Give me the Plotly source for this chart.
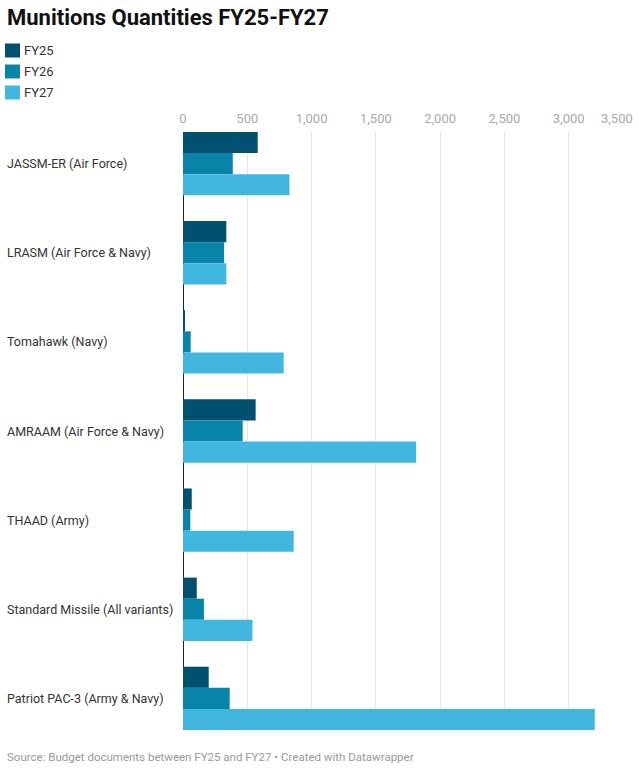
import plotly.graph_objects as go

categories = [
    "JASSM-ER (Air Force)",
    "LRASM (Air Force & Navy)",
    "Tomahawk (Navy)",
    "AMRAAM (Air Force & Navy)",
    "THAAD (Army)",
    "Standard Missile (All variants)",
    "Patriot PAC-3 (Army & Navy)",
]
fy25 = [581, 337, 15, 565, 68, 107, 200]
fy26 = [387, 319, 60, 464, 57, 163, 363]
fy27 = [828, 337, 783, 1813, 861, 540, 3203]

series_names = ["FY25", "FY26", "FY27"]
colors = ["#02506f", "#0784a8", "#41b7e0"]
tick_vals = [0, 500, 1000, 1500, 2000, 2500, 3000, 3500]

W, H = 639, 771
ML, MR, MT, MB = 183, 6, 132, 41
PW, PH = W - ML - MR, H - MT - MB
gap = 0.29


# paper coords are relative to the plot area, convert from page pixels
def px(x):
    return (x - ML) / PW


def py(y):
    return 1 - (y - MT) / PH


fig = go.Figure()
for name, vals, col in zip(series_names, [fy25, fy26, fy27], colors):
    fig.add_trace(
        go.Bar(
            y=categories,
            x=vals,
            name=name,
            orientation="h",
            marker=dict(color=col, line=dict(width=0)),
            hoverinfo="x+name",
        )
    )

# title
fig.add_annotation(
    x=px(5), y=py(18), xref="paper", yref="paper", xanchor="left", yanchor="middle",
    text="<b>Munitions Quantities FY25-FY27</b>", showarrow=False,
    font=dict(family="Roboto", size=22, color="#111111"),
)

# legend drawn by hand (datawrapper style)
for i, (name, col) in enumerate(zip(series_names, colors)):
    yc = 50.5 + 21 * i
    fig.add_shape(
        type="rect", xref="paper", yref="paper",
        x0=px(5), x1=px(20), y0=py(yc - 7), y1=py(yc + 7),
        fillcolor=col, line=dict(width=0),
    )
    fig.add_annotation(
        x=px(22), y=py(yc), xref="paper", yref="paper", xanchor="left", yanchor="middle",
        text=name, showarrow=False, font=dict(family="Roboto", size=13, color="#333333"),
    )

# category labels on the left
for cat in categories:
    fig.add_annotation(
        x=px(5), y=cat, xref="paper", yref="y", xanchor="left", yanchor="middle",
        text=cat, showarrow=False, font=dict(family="Roboto", size=12.5, color="#333333"),
    )

# last tick label sits right-aligned on its gridline
fig.add_annotation(
    x=tick_vals[-1], y=py(119), xref="x", yref="paper", xanchor="right", yanchor="middle",
    text=f"{tick_vals[-1]:,}", showarrow=False, xshift=2,
    font=dict(family="Roboto", size=13, color="#aaaaaa"),
)

fig.update_xaxes(
    range=[0, 3500],
    side="top",
    tickvals=tick_vals,
    ticktext=[f"{v:,}" for v in tick_vals[:-1]] + [""],
    tickfont=dict(family="Roboto", size=13, color="#aaaaaa"),
    ticklabelstandoff=5,
    showgrid=True,
    gridcolor="#e6e6e6",
    gridwidth=1,
    zeroline=True,
    zerolinecolor="#222222",
    zerolinewidth=1,
    ticks="",
    ticklen=0,
    showline=False,
    fixedrange=True,
)
fig.update_yaxes(
    range=[len(categories) - 1 + (1 - gap) / 2, -(1 - gap) / 2],
    showticklabels=False,
    showgrid=False,
    zeroline=False,
    ticks="",
    fixedrange=True,
)

fig.add_annotation(
    x=px(5), y=py(757), xref="paper", yref="paper", xanchor="left", yanchor="middle",
    text="Source: Budget documents between FY25 and FY27 • Created with Datawrapper",
    showarrow=False, font=dict(family="Roboto", size=11.5, color="#999999"),
)

fig.update_layout(
    width=W,
    height=H,
    margin=dict(l=ML, r=MR, t=MT, b=MB, pad=0),
    barmode="group",
    bargap=gap,
    bargroupgap=0,
    showlegend=False,
    plot_bgcolor="white",
    paper_bgcolor="white",
    font=dict(family="Roboto"),
)

fig.write_html(
    "out.html",
    config={"displayModeBar": False},
    post_script="document.body.style.margin='0';",
)
